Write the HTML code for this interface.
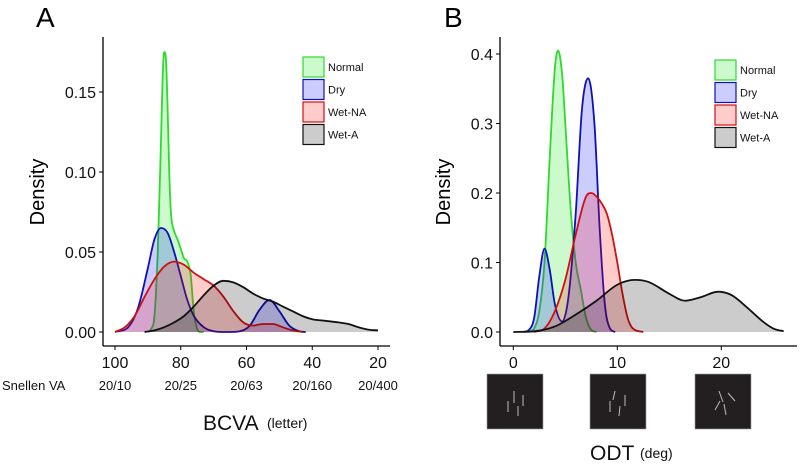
<!DOCTYPE html>
<html><head><meta charset="utf-8"><style>
html,body{margin:0;padding:0;background:#fff;}
svg{display:block;font-family:"Liberation Sans",Arial,sans-serif;}
</style></head><body>
<svg id="fig" width="800" height="468" viewBox="0 0 800 468" xmlns="http://www.w3.org/2000/svg">
<text x="36" y="27" font-size="28">A</text>
<text x="444" y="27" font-size="28">B</text>
<g id="pa"></g>
<g id="pb"></g>
</svg>
<script>
// ---- Panel A data (BCVA letters) ----
const aTicksX = [100, 80, 60, 40, 20];
const aSnellen = ["20/10", "20/25", "20/63", "20/160", "20/400"];
const aTicksY = [0, 0.05, 0.10, 0.15];
const aTickLabelsY = ["0.00", "0.05", "0.10", "0.15"];
const aNormalX = [90,89,88,87,86,85.5,85,84.5,84,83.5,83,82,81,80,79,78,77,76,75,74,73];
const aNormalY = [0,0.002,0.01,0.05,0.12,0.16,0.175,0.17,0.14,0.1,0.075,0.063,0.058,0.052,0.046,0.044,0.036,0.012,0.002,0,0];
const aDryX = [100,96,93,90,88,86,84,82,80,78,76,73,70,66,62,59,56,53,50,47,44,42];
const aDryY = [0,0.003,0.015,0.04,0.058,0.065,0.062,0.05,0.035,0.02,0.01,0.003,0.0005,0,0.0005,0.004,0.014,0.02,0.013,0.004,0.0005,0];
const aWetNAX = [100,97,94,91,88,85,82,79,76,73,70,67,64,61,58,55,52,49,46,43];
const aWetNAY = [0,0.003,0.01,0.022,0.033,0.041,0.044,0.042,0.037,0.033,0.029,0.022,0.013,0.006,0.004,0.005,0.005,0.003,0.001,0];
const aWetAX = [91,88,85,82,79,76,73,70,67,64,61,58,55,52,49,46,43,40,36,32,29,26,23,20];
const aWetAY = [0,0.001,0.003,0.006,0.01,0.016,0.023,0.029,0.032,0.031,0.028,0.024,0.021,0.019,0.016,0.013,0.01,0.008,0.007,0.006,0.005,0.003,0.0015,0.001];
// ---- Panel B data (ODT deg) ----
const bTicksX = [0, 10, 20];
const bTicksY = [0, 0.1, 0.2, 0.3, 0.4];
const bTickLabelsY = ["0.0", "0.1", "0.2", "0.3", "0.4"];
const bNormalX = [1.5,2,2.5,3,3.5,4,4.3,4.7,5,5.5,6,6.5,7,7.5,8];
const bNormalY = [0,0.005,0.03,0.1,0.25,0.38,0.405,0.37,0.3,0.18,0.1,0.06,0.02,0.003,0];
const bDryX = [1,1.5,2,2.5,3,3.5,4,4.7,5.3,6,6.6,7.2,7.8,8.3,8.8,9.3,9.8];
const bDryY = [0,0.003,0.02,0.08,0.12,0.09,0.04,0.015,0.05,0.17,0.32,0.365,0.3,0.15,0.04,0.005,0];
const bWetNAX = [2,3,4,5,6,7,7.5,8,8.5,9,9.5,10,10.5,11,11.5,12.5];
const bWetNAY = [0,0.005,0.03,0.075,0.14,0.195,0.2,0.195,0.185,0.17,0.14,0.1,0.055,0.02,0.005,0];
const bWetAX = [0,2,4,6,8,10,11.7,13,15,16.5,18,19.7,21,22.5,24,25,26];
const bWetAY = [0,0.001,0.008,0.025,0.045,0.068,0.075,0.072,0.055,0.045,0.05,0.058,0.053,0.035,0.015,0.005,0.001];

const seriesNames = ["Normal", "Dry", "Wet-NA", "Wet-A"];
const strokes = ["#2fd92f", "#1010b8", "#d01010", "#111111"];
const fills = ["rgba(0,230,0,0.2)", "rgba(0,0,255,0.2)", "rgba(255,0,0,0.2)", "rgba(0,0,0,0.2)"];

const NS = "http://www.w3.org/2000/svg";
function mk(parent, tag, attrs, text) {
  const e = document.createElementNS(NS, tag);
  for (const k in attrs) e.setAttribute(k, attrs[k]);
  if (text !== undefined) e.textContent = text;
  parent.appendChild(e);
  return e;
}
function monoPath(pts) {
  pts = pts.slice().sort((a, b) => a[0] - b[0]);
  const n = pts.length, d = [], m = [];
  for (let i = 0; i < n - 1; i++) d.push((pts[i+1][1] - pts[i][1]) / (pts[i+1][0] - pts[i][0]));
  m.push(d[0]);
  for (let i = 1; i < n - 1; i++) m.push(d[i-1] * d[i] <= 0 ? 0 : (d[i-1] + d[i]) / 2);
  m.push(d[n-2]);
  for (let i = 0; i < n - 1; i++) {
    if (d[i] === 0) { m[i] = 0; m[i+1] = 0; continue; }
    const a = m[i] / d[i], b = m[i+1] / d[i];
    const s = a * a + b * b;
    if (s > 9) { const t = 3 / Math.sqrt(s); m[i] = t * a * d[i]; m[i+1] = t * b * d[i]; }
  }
  let p = "M" + pts[0][0].toFixed(2) + "," + pts[0][1].toFixed(2);
  for (let i = 0; i < n - 1; i++) {
    const h = (pts[i+1][0] - pts[i][0]) / 3;
    p += "C" + (pts[i][0] + h).toFixed(2) + "," + (pts[i][1] + m[i] * h).toFixed(2) + " " +
      (pts[i+1][0] - h).toFixed(2) + "," + (pts[i+1][1] - m[i+1] * h).toFixed(2) + " " +
      pts[i+1][0].toFixed(2) + "," + pts[i+1][1].toFixed(2);
  }
  return { d: p, first: pts[0][0], last: pts[n-1][0] };
}

function drawPanel(g, cfg) {
  const { sx, sy, axisX, axisY, axisRight, axisTop } = cfg;
  cfg.series.forEach((s, i) => {
    const pts = s.x.map((v, j) => [sx(v), sy(s.y[j])]);
    const mp = monoPath(pts);
    const area = mk(g, "path", { d: mp.d + "L" + mp.last.toFixed(2) + "," + sy(0) + "L" + mp.first.toFixed(2) + "," + sy(0) + "Z", fill: fills[i], stroke: "none" });
    
    
    const line = mk(g, "path", { d: mp.d, fill: "none", stroke: strokes[i], "stroke-width": 1.8 });
    
    
  });
  const ya = mk(g, "line", { x1: axisX, y1: axisTop, x2: axisX, y2: axisY, stroke: "#000", "stroke-width": 1.3 });
  
  
  const xa = mk(g, "line", { x1: axisX, y1: axisY, x2: axisRight, y2: axisY, stroke: "#000", "stroke-width": 1.3 });
  
  
  cfg.ticksY.forEach((v, i) => {
    const y = sy(v);
    const t = mk(g, "line", { x1: axisX - 4, y1: y, x2: axisX, y2: y, stroke: "#000", "stroke-width": 1 });
    
    
    const l = mk(g, "text", { x: axisX - 7, y: y + 6, "font-size": 16, "text-anchor": "end", fill: "#111" }, cfg.tickLabelsY[i]);
    
    
  });
  cfg.ticksX.forEach((v) => {
    const x = sx(v);
    const t = mk(g, "line", { x1: x, y1: axisY, x2: x, y2: axisY + 4, stroke: "#000", "stroke-width": 1 });
    
    
    const l = mk(g, "text", { x: x, y: axisY + 22, "font-size": 16, "text-anchor": "middle", fill: "#111" }, String(v));
    
    
  });
  const yl = mk(g, "text", { x: 0, y: 0, "font-size": 20, "text-anchor": "middle", transform: "translate(" + cfg.ylabX + ",192) rotate(-90)" }, "Density");
  
  
  seriesNames.forEach((nm, i) => {
    const y = cfg.legY + i * 22.5;
    const r = mk(g, "rect", { x: cfg.legX, y: y, width: 21, height: 20, fill: fills[i], stroke: strokes[i], "stroke-width": 1.2 });
    
    
    const t = mk(g, "text", { x: cfg.legX + 25, y: y + 14, "font-size": 11, fill: "#111" }, nm);
    
    
  });
}

const pa = document.getElementById("pa");
const sxA = v => 115 + (100 - v) * (263 / 80);
const syA = v => 332 - v * 1600;
drawPanel(pa, {
  sx: sxA, sy: syA, axisX: 103, axisY: 346, axisRight: 390, axisTop: 37, ylabX: 44,
  ticksX: aTicksX, ticksY: aTicksY, tickLabelsY: aTickLabelsY, legX: 303, legY: 57,
  series: [
    { key: "normal", x: aNormalX, y: aNormalY },
    { key: "dry", x: aDryX, y: aDryY },
    { key: "wet-na", x: aWetNAX, y: aWetNAY },
    { key: "wet-a", x: aWetAX, y: aWetAY }
  ]
});
mk(pa, "text", { x: 2, y: 390, "font-size": 13, fill: "#111",  }, "Snellen VA");
aSnellen.forEach((s, i) => {
  const t = mk(pa, "text", { x: sxA(aTicksX[i]), y: 390, "font-size": 13, "text-anchor": "middle", fill: "#111" }, s);
  
  
});
mk(pa, "text", { x: 203, y: 430, "font-size": 21, fill: "#111",  }, "BCVA");
mk(pa, "text", { x: 267, y: 428, "font-size": 14, fill: "#111",  }, "(letter)");

const pb = document.getElementById("pb");
const sxB = v => 513.3 + v * 10.4;
const syB = v => 332 - v * 695;
drawPanel(pb, {
  sx: sxB, sy: syB, axisX: 500, axisY: 346, axisRight: 797, axisTop: 37, ylabX: 450,
  ticksX: bTicksX, ticksY: bTicksY, tickLabelsY: bTickLabelsY, legX: 715, legY: 60,
  series: [
    { key: "normal", x: bNormalX, y: bNormalY },
    { key: "dry", x: bDryX, y: bDryY },
    { key: "wet-na", x: bWetNAX, y: bWetNAY },
    { key: "wet-a", x: bWetAX, y: bWetAY }
  ]
});
mk(pb, "text", { x: 590, y: 460, "font-size": 21, fill: "#111",  }, "ODT");
mk(pb, "text", { x: 640, y: 458, "font-size": 14, fill: "#111",  }, "(deg)");
const thumbs = [
  { x: 487, segs: [[27,17,27,29],[21,27,21,38],[36,21,36,32],[31,32,31,42]] },
  { x: 590, segs: [[25,17,23,26],[20,27,20,38],[35,21,35,32],[30,32,29,42]] },
  { x: 695, segs: [[24,17,28,28],[33,19,40,27],[20,36,25,27],[29,30,31,41]] }
];
thumbs.forEach((t, i) => {
  const g = mk(pb, "g", { transform: "translate(" + t.x + ",374)" });
  
  
  mk(g, "rect", { x: 0, y: 0, width: 56, height: 55, fill: "#231f20", stroke: "#999", "stroke-width": 0.6 });
  t.segs.forEach(s => mk(g, "line", { x1: s[0], y1: s[1], x2: s[2], y2: s[3], stroke: "#bbb", "stroke-width": 1 }));
});
</script>
</body></html>
